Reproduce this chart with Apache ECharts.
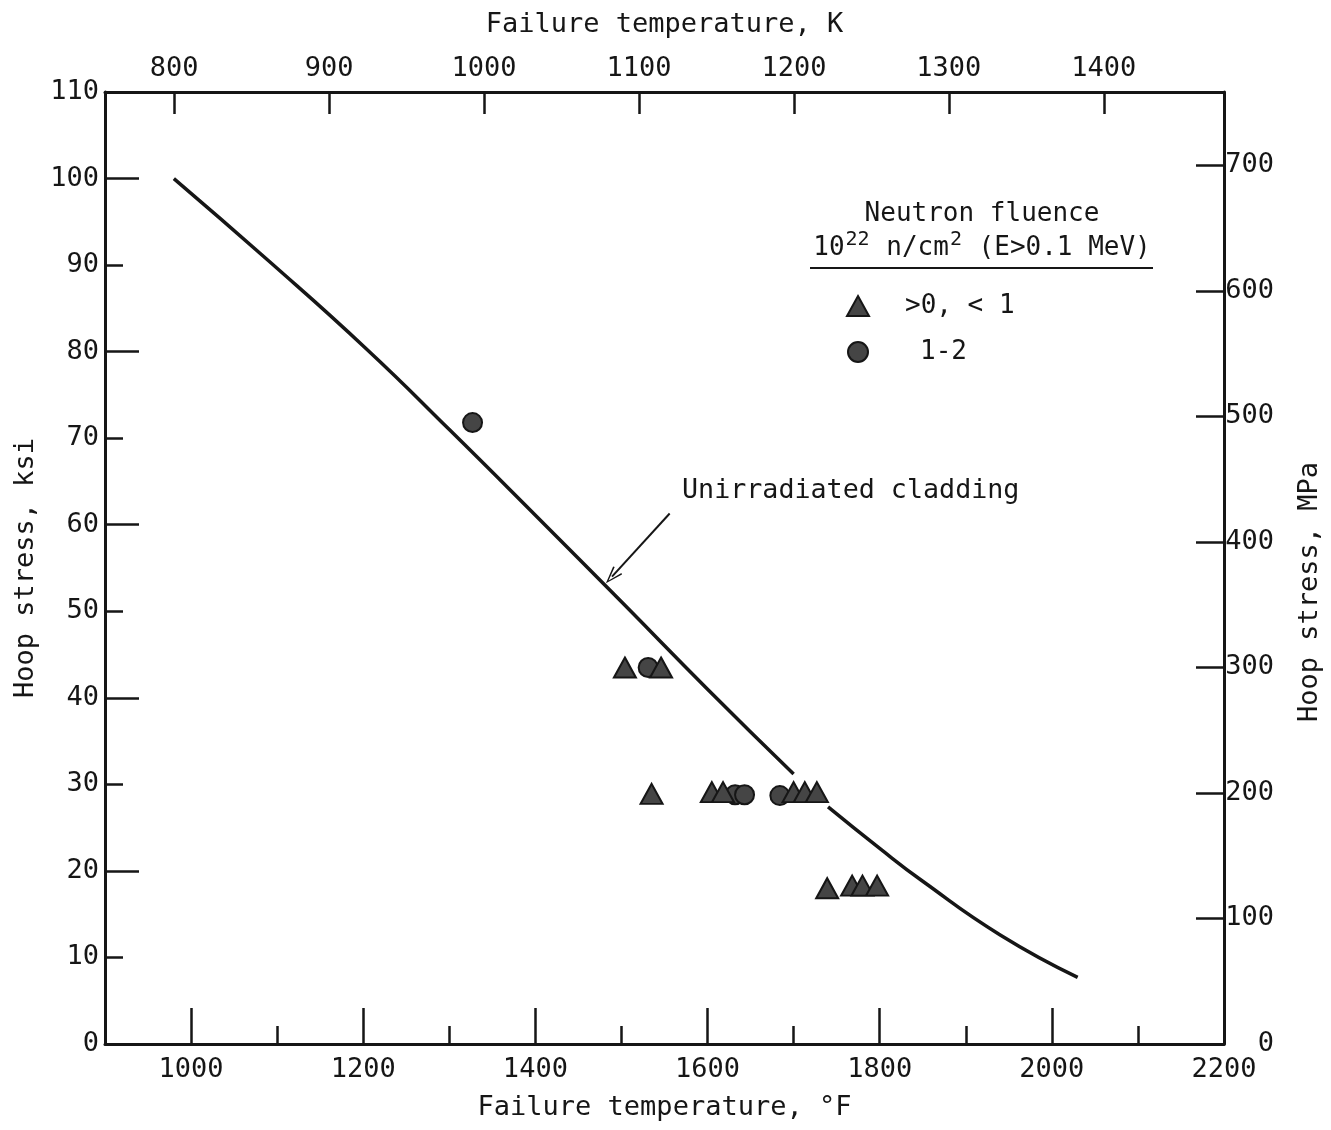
<!DOCTYPE html>
<html>
<head>
<meta charset="utf-8">
<script src="https://cdn.jsdelivr.net/npm/echarts@6/dist/echarts.min.js"></script>
<style>
  html, body { margin: 0; padding: 0; background: #fff; }
  #chart { width: 1331px; height: 1130px; }
</style>
</head>
<body>
<div id="chart"></div>
<script>
// Unirradiated cladding: failure temperature (°F) vs hoop stress (ksi)
const curveUpperF   = [980, 1090, 1205, 1300, 1400, 1500, 1600, 1700];
const curveUpperKsi = [100, 90.5, 80.2, 71.0, 61.1, 51.1, 41.0, 31.2];
const curveLowerF   = [1740, 1800, 1850, 1940, 2030];
const curveLowerKsi = [27.4, 22.6, 18.8, 12.6, 7.7];

// Irradiated cladding, neutron fluence >0, <1 (10^22 n/cm^2)
const lowFluenceF   = [1504, 1546, 1535, 1605, 1618, 1700, 1713, 1727, 1739, 1768, 1780, 1797];
const lowFluenceKsi = [43.5, 43.5, 28.9, 29.1, 29.1, 29.1, 29.1, 29.1, 18.0, 18.3, 18.3, 18.3];

// Irradiated cladding, neutron fluence 1-2 (10^22 n/cm^2)
const highFluenceF   = [1327, 1531, 1632, 1643, 1684];
const highFluenceKsi = [71.8, 43.5, 28.8, 28.8, 28.7];

// Tick values
const fTicksMajor = [1000, 1200, 1400, 1600, 1800, 2000, 2200];
const fTicksMinor = [1100, 1300, 1500, 1700, 1900, 2100];
const kTicks      = [800, 900, 1000, 1100, 1200, 1300, 1400];

// Arrow for the curve label (°F, ksi)
const arrowFrom = [1556, 61.3];
const arrowTo   = [1489, 54.0];

const F_MIN = 900, F_MAX = 2200;
const KSI_MAX = 110;
const toK = f => (f - 32) / 1.8 + 273.15;
const KSI_TO_MPA = 6.894757;

const FONT = '"DejaVu Sans Mono", "Liberation Mono", monospace';
const INK = '#161616';
const FS = 27;

const pairs = (xs, ys) => xs.map((x, i) => [x, ys[i]]);
const plain = v => String(Math.round(v));

const chart = echarts.init(document.getElementById('chart'), null, { renderer: 'canvas' });

const axisLineOn = { show: true, onZero: false, lineStyle: { color: INK, width: 3 } };
const axisLineOff = { show: false, onZero: false };
const tickStyle = { color: INK, width: 2.5 };

chart.setOption({
  animation: false,
  backgroundColor: '#fff',
  textStyle: { fontFamily: FONT, color: INK },
  grid: { left: 105, right: 107, top: 92, bottom: 86, containLabel: false },
  title: {
    left: 977, top: 194, textAlign: 'center',
    text: 'Neutron fluence\n{n|10}{s|22}{n| n/cm}{s|2}{n| (E>0.1 MeV)}',
    textStyle: {
      fontFamily: FONT, fontSize: 26, fontWeight: 'normal', color: INK, lineHeight: 31,
      rich: {
        n: { fontFamily: FONT, fontSize: 26, color: INK, lineHeight: 31, verticalAlign: 'bottom' },
        s: { fontFamily: FONT, fontSize: 20, color: INK, lineHeight: 31, verticalAlign: 'bottom', padding: [0, 1, 11, 1] }
      }
    }
  },
  legend: {
    orient: 'vertical', left: 841, top: 288,
    itemWidth: 22, itemHeight: 20, itemGap: 20,
    data: [{ name: '>0, < 1', icon: 'triangle' }, { name: '1-2', icon: 'circle' }],
    formatter: name => (name === '1-2' ? '{b|' + name + '}' : '{a|' + name + '}'),
    textStyle: {
      fontFamily: FONT, fontSize: 26, color: INK, lineHeight: 20,
      rich: {
        a: { fontFamily: FONT, fontSize: 26, color: INK, lineHeight: 20, padding: [0, 0, 0, 31] },
        b: { fontFamily: FONT, fontSize: 26, color: INK, lineHeight: 20, padding: [0, 0, 0, 46] }
      }
    },
    selectedMode: false
  },
  graphic: [
    {
      type: 'line', silent: true,
      shape: { x1: 810, y1: 268, x2: 1153, y2: 268 },
      style: { stroke: INK, lineWidth: 2 }
    },
    {
      type: 'text', silent: true, left: 682, top: 478,
      style: { text: 'Unirradiated cladding', fontFamily: FONT, fontSize: 26.7, fill: INK }
    }
  ],
  xAxis: [
    {
      type: 'value', position: 'bottom', min: F_MIN, max: F_MAX,
      name: 'Failure temperature, °F', nameLocation: 'middle', nameGap: 50,
      nameTextStyle: { fontFamily: FONT, fontSize: FS, color: INK },
      axisLine: axisLineOn,
      axisTick: { show: true, inside: true, length: 36, lineStyle: tickStyle, customValues: fTicksMajor },
      axisLabel: { fontFamily: FONT, fontSize: FS, color: INK, margin: 12, customValues: fTicksMajor, formatter: plain },
      splitLine: { show: false }
    },
    {
      type: 'value', position: 'bottom', min: F_MIN, max: F_MAX,
      axisLine: axisLineOff,
      axisTick: { show: true, inside: true, length: 18, lineStyle: tickStyle, customValues: fTicksMinor },
      axisLabel: { show: false },
      splitLine: { show: false }
    },
    {
      type: 'value', position: 'top', min: toK(F_MIN), max: toK(F_MAX),
      name: 'Failure temperature, K', nameLocation: 'middle', nameGap: 54,
      nameTextStyle: { fontFamily: FONT, fontSize: FS, color: INK },
      axisLine: axisLineOn,
      axisTick: { show: true, inside: true, length: 22, lineStyle: tickStyle, customValues: kTicks },
      axisLabel: { fontFamily: FONT, fontSize: FS, color: INK, margin: 10, customValues: kTicks, formatter: plain },
      splitLine: { show: false }
    }
  ],
  yAxis: [
    {
      type: 'value', position: 'left', min: 0, max: KSI_MAX, interval: 10,
      name: 'Hoop stress, ksi', nameLocation: 'middle', nameGap: 56,
      nameTextStyle: { fontFamily: FONT, fontSize: FS, color: INK },
      axisLine: axisLineOn,
      axisTick: { show: true, inside: true, length: 18, lineStyle: tickStyle },
      axisLabel: { fontFamily: FONT, fontSize: FS, color: INK, margin: 6, formatter: plain },
      splitLine: { show: false }
    },
    {
      type: 'value', position: 'left', min: 0, max: KSI_MAX, interval: 20,
      axisLine: axisLineOff,
      axisTick: { show: true, inside: true, length: 34, lineStyle: tickStyle },
      axisLabel: { show: false },
      splitLine: { show: false }
    },
    {
      type: 'value', position: 'right', min: 0, max: KSI_MAX * KSI_TO_MPA, interval: 100,
      name: 'Hoop stress, MPa', nameLocation: 'middle', nameGap: 72,
      nameTextStyle: { fontFamily: FONT, fontSize: FS, color: INK, padding: [0, 48, 0, 0] },
      axisLine: axisLineOn,
      axisTick: { show: true, inside: true, length: 28, lineStyle: tickStyle },
      axisLabel: {
        fontFamily: FONT, fontSize: FS, color: INK, margin: 50, align: 'right',
        formatter: v => (v > 705 ? '' : plain(v))
      },
      splitLine: { show: false }
    }
  ],
  series: [
    {
      name: 'Unirradiated cladding', type: 'line', xAxisIndex: 0, yAxisIndex: 0,
      data: pairs(curveUpperF, curveUpperKsi), smooth: 0.5,
      showSymbol: false, silent: true,
      lineStyle: { color: INK, width: 3.5 },
      markLine: {
        silent: true, animation: false,
        symbol: ['none', 'path://M5,0 L10,14 L8.8,14.6 L5,3.2 L1.2,14.6 L0,14 Z'],
        symbolSize: [12, 18],
        label: { show: false },
        lineStyle: { color: INK, width: 2, type: 'solid' },
        data: [[{ coord: arrowFrom }, { coord: arrowTo }]]
      }
    },
    {
      name: 'Unirradiated cladding (high temperature)', type: 'line', xAxisIndex: 0, yAxisIndex: 0,
      data: pairs(curveLowerF, curveLowerKsi), smooth: 0.5,
      showSymbol: false, silent: true,
      lineStyle: { color: INK, width: 3.5 }
    },
    {
      name: '1-2', type: 'scatter', xAxisIndex: 0, yAxisIndex: 0,
      symbol: 'circle', symbolSize: 19,
      itemStyle: { color: '#454545', borderColor: INK, borderWidth: 2, opacity: 1 },
      data: pairs(highFluenceF, highFluenceKsi)
    },
    {
      name: '>0, < 1', type: 'scatter', xAxisIndex: 0, yAxisIndex: 0,
      symbol: 'triangle', symbolSize: [22, 20],
      itemStyle: { color: '#454545', borderColor: INK, borderWidth: 2, opacity: 1 },
      data: pairs(lowFluenceF, lowFluenceKsi)
    }
  ]
});
</script>
</body>
</html>
